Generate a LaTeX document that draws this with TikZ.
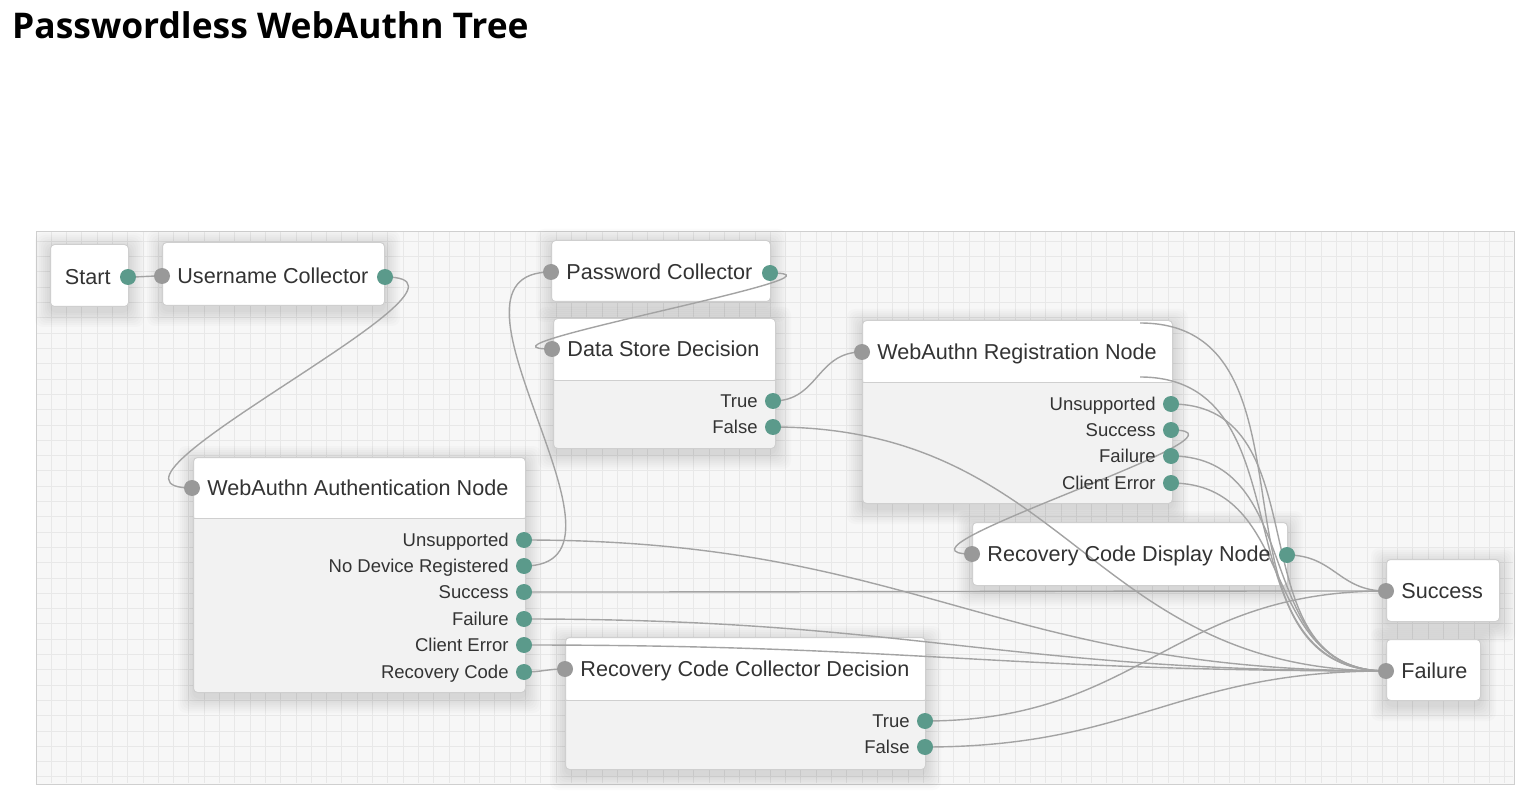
\documentclass[tikz,border=0pt]{standalone}
\usepackage{fontspec}
\setmainfont{Liberation Sans}
\newfontfamily\headfont{Open Sans}
\usetikzlibrary{calc, positioning}

\definecolor{wiregray}{HTML}{A3A3A3}
\definecolor{portgreen}{HTML}{5B9A8B}
\definecolor{portgray}{HTML}{999999}
\definecolor{boxline}{HTML}{CFCFCF}
\definecolor{bodygray}{HTML}{F2F2F2}
\definecolor{canvasbg}{HTML}{F7F7F7}
\definecolor{gridgray}{HTML}{E8E8E8}
\definecolor{txtgray}{HTML}{333333}

\pgfdeclarelayer{canvas}
\pgfdeclarelayer{shade}
\pgfdeclarelayer{back}
\pgfdeclarelayer{wires}
\pgfsetlayers{canvas,shade,back,wires,main}

\tikzset{
  box/.style={draw=boxline, fill=white, line width=1pt, rounded corners=4pt,
    anchor=north west, inner sep=0pt},
  outbox/.style={box, fill=bodygray,
    path picture={
      \fill[white] (path picture bounding box.north west)
        rectangle ([yshift=-#1]path picture bounding box.north east);
      \draw[boxline, line width=1pt] ([yshift=-#1]path picture bounding box.north west)
        -- ([yshift=-#1]path picture bounding box.north east);}},
  outbox/.default=62pt,
  indot/.style={circle, fill=portgray, minimum size=16pt, inner sep=0pt},
  outdot/.style={circle, fill=portgreen, minimum size=16pt, inner sep=0pt},
  ttl/.style={font=\fontsize{21.6}{24}\selectfont, text=txtgray, inner sep=0pt,
    text height=15.5pt, text depth=0pt},
  olbl/.style={font=\fontsize{18.5}{21}\selectfont, text=txtgray, inner sep=0pt,
    text height=13.2pt, text depth=0pt},
  wire/.style={draw=wiregray, line width=1.4pt},
  haze/.style={fill=black, opacity=0.016, rounded corners=8pt}
}

\begin{document}
\begin{tikzpicture}[x=1pt, y=-1pt]
  \useasboundingbox (0,0) rectangle (1540,802);

  \node[anchor=base west, inner sep=0pt, font=\headfont\bfseries\fontsize{35.4}{40}\selectfont]
    (title) at (12,39) {Passwordless WebAuthn Tree};

  % canvas with grid
  \begin{pgfonlayer}{canvas}
    \filldraw[fill=canvasbg, draw=boxline] (36,231) rectangle (1514,784);
    \foreach \gx in {51,66.3,...,1512}
      \draw[gridgray, line width=0.6pt] (\gx,232) -- (\gx,783);
    \foreach \gy in {241.2,256.5,...,782}
      \draw[gridgray, line width=0.6pt] (37,\gy) -- (1513,\gy);
  \end{pgfonlayer}

  % node boxes
  \begin{pgfonlayer}{back}
    \node[box, minimum width=78pt, minimum height=62pt] (start) at (50,244) {};
    \node[box, minimum width=222pt, minimum height=63pt] (uc) at (162,242) {};
    \node[box, minimum width=219pt, minimum height=61pt] (pc) at (551,240) {};
    \node[outbox, minimum width=222pt, minimum height=130pt] (ds) at (553,318) {};
    \node[outbox, minimum width=310pt, minimum height=183pt] (reg) at (862,320) {};
    \node[outbox=61pt, minimum width=332pt, minimum height=235pt] (auth) at (193,457) {};
    \node[outbox=63pt, minimum width=360pt, minimum height=132pt] (rccd) at (565,637) {};
    \node[box, minimum width=315pt, minimum height=63pt] (disp) at (972,522) {};
    \node[box, minimum width=113pt, minimum height=62pt] (succ) at (1386,559) {};
    \node[box, minimum width=94pt, minimum height=61pt] (fail) at (1386,639) {};
  \end{pgfonlayer}

  % soft shadows under the boxes
  \begin{pgfonlayer}{shade}
    \foreach \bx in {start, uc, pc, ds, reg, auth, rccd, disp, succ, fail}
      \foreach \k in {1,3,...,15}
        \fill[haze] ([xshift=-\k pt, yshift=\k pt-4pt]\bx.north west)
          rectangle ([xshift=\k pt, yshift=-\k pt-5pt]\bx.south east);
  \end{pgfonlayer}

  % ports and texts
  \node[outdot] (start-out) at (128,277) {};
  \node[ttl, left=9pt of start-out] (start-txt) {Start};

  \node[indot] (uc-in) at (162,276) {};
  \node[outdot] (uc-out) at (385,277) {};
  \node[ttl, right=7pt of uc-in] (uc-txt) {Username Collector};

  \node[indot] (pc-in) at (551,272) {};
  \node[outdot] (pc-out) at (770,273) {};
  \node[ttl, right=7pt of pc-in] (pc-txt) {Password Collector};

  \node[indot] (ds-in) at (552,349) {};
  \node[ttl, right=7pt of ds-in] (ds-txt) {Data Store Decision};
  \foreach \name/\txt/\yy in {true/True/401, false/False/427} {
    \node[outdot] (ds-\name) at (773,\yy) {};
    \node[olbl, left=7pt of ds-\name] {\txt};
  }

  \node[indot] (reg-in) at (862,352) {};
  \node[ttl, right=7pt of reg-in] (reg-txt) {WebAuthn Registration Node};
  \foreach \name/\txt/\yy in {unsup/Unsupported/404, succ/Success/430,
      fail/Failure/456, cerr/Client Error/483} {
    \node[outdot] (reg-\name) at (1171,\yy) {};
    \node[olbl, left=7pt of reg-\name] {\txt};
  }

  \node[indot] (auth-in) at (192,488) {};
  \node[ttl, right=7pt of auth-in] (auth-txt) {WebAuthn Authentication Node};
  \foreach \name/\txt/\yy in {unsup/Unsupported/540, nodev/No Device Registered/566,
      succ/Success/592, fail/Failure/619, cerr/Client Error/645, rec/Recovery Code/672} {
    \node[outdot] (auth-\name) at (524,\yy) {};
    \node[olbl, left=7pt of auth-\name] {\txt};
  }

  \node[indot] (rccd-in) at (565,669) {};
  \node[ttl, right=7pt of rccd-in] (rccd-txt) {Recovery Code Collector Decision};
  \foreach \name/\txt/\yy in {true/True/721, false/False/747} {
    \node[outdot] (rccd-\name) at (925,\yy) {};
    \node[olbl, left=7pt of rccd-\name] {\txt};
  }

  \node[indot] (disp-in) at (972,554) {};
  \node[outdot] (disp-out) at (1287,555) {};
  \node[ttl, right=7pt of disp-in] (disp-txt) {Recovery Code Display Node};

  \node[indot] (succ-in) at (1386,591) {};
  \node[ttl, right=7pt of succ-in] (succ-txt) {Success};
  \node[indot] (fail-in) at (1386,671) {};
  \node[ttl, right=7pt of fail-in] (fail-txt) {Failure};

  \coordinate (reg-ghost1) at (1140,323);
  \coordinate (reg-ghost2) at (1140,377);

  % connectors
  \begin{pgfonlayer}{wires}
    \foreach \src/\dst in {start-out/uc-in, uc-out/auth-in, auth-unsup/fail-in,
        auth-nodev/pc-in, auth-succ/succ-in, auth-fail/fail-in, auth-cerr/fail-in,
        auth-rec/rccd-in, pc-out/ds-in, ds-true/reg-in, ds-false/fail-in,
        reg-unsup/fail-in, reg-succ/disp-in, reg-fail/fail-in, reg-cerr/fail-in,
        disp-out/succ-in, rccd-true/succ-in, rccd-false/fail-in,
        reg-ghost1/fail-in, reg-ghost2/fail-in}
      \draw[wire] let \p1=(\src.center), \p2=(\dst.center),
          \n1={0.45*veclen(\x2-\x1,\y2-\y1)} in
        (\p1) .. controls +(\n1,0) and +(-\n1,0) .. (\p2);
  \end{pgfonlayer}
\end{tikzpicture}
\end{document}
